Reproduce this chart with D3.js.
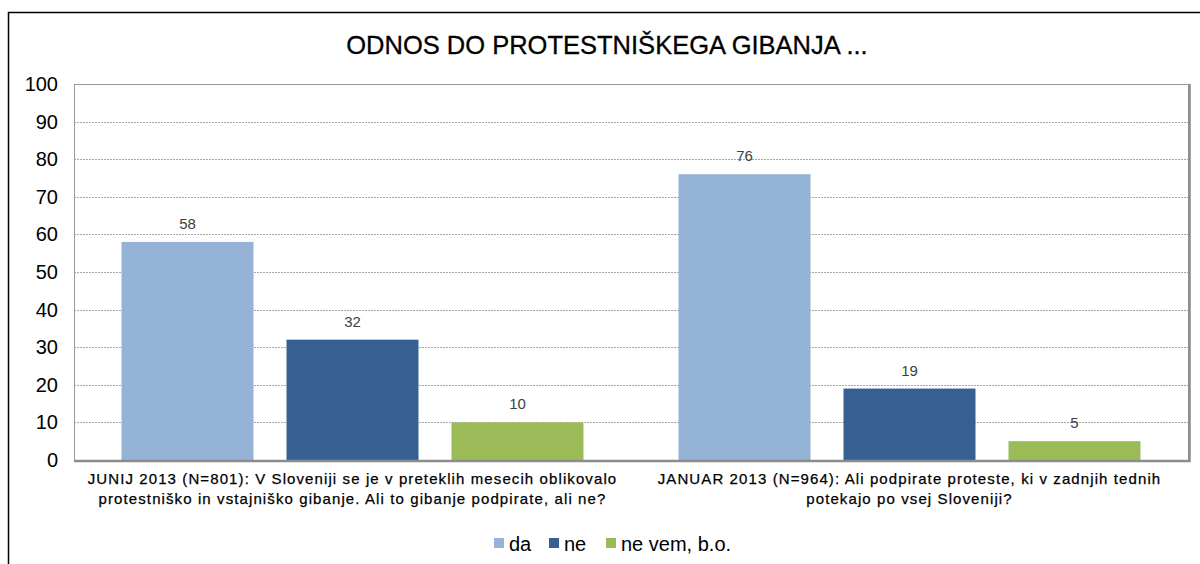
<!DOCTYPE html>
<html><head><meta charset="utf-8">
<script src="https://cdn.jsdelivr.net/npm/d3@7"></script>
<style>body{margin:0;background:#fff}svg{display:block;font-family:"Liberation Sans",Arial,sans-serif}</style>
</head><body><svg id="c" width="1200" height="564"></svg>
<script>
const categories = [
  ["JUNIJ 2013 (N=801): V Sloveniji se je v preteklih mesecih oblikovalo", "protestniško in vstajniško gibanje. Ali to gibanje podpirate, ali ne?"],
  ["JANUAR 2013 (N=964): Ali podpirate proteste, ki v zadnjih tednih", "potekajo po vsej Sloveniji?"]
];
const seriesNames = ["da", "ne", "ne vem, b.o."];
const seriesColors = ["#95B3D7", "#366092", "#9BBB59"];
const da = [58, 76];
const ne = [32, 19];
const neVem = [10, 5];
const yTicks = [0,10,20,30,40,50,60,70,80,90,100];
const title = "ODNOS DO PROTESTNIŠKEGA GIBANJA ...";

const svg = d3.select("#c");
const seriesVals = [da, ne, neVem];
const M = {l:74, t:84, r:1188, b:460};

// outer border
svg.append("path").attr("d","M8.5,564 V12.5 H1200").attr("fill","none").attr("stroke","#000").attr("stroke-width",1.5);

svg.append("text").attr("x",607).attr("y",54).attr("text-anchor","middle")
  .attr("font-size",25.5).attr("fill","#000").attr("stroke","#000").attr("stroke-width",0.3).text(title);

const y = d3.scaleLinear().domain([0,100]).range([M.b, M.t]);
const x0 = d3.scaleBand().domain(d3.range(categories.length)).range([M.l, M.r]).paddingInner(0).paddingOuter(0);
const x1 = d3.scaleBand().domain(d3.range(seriesNames.length)).range([0, x0.bandwidth()]).paddingInner(0.2).paddingOuter(0.288);

// grid
svg.append("g").selectAll("line").data(yTicks.filter(d=>d>0 && d<100)).join("line")
  .attr("x1",M.l).attr("x2",M.r).attr("y1",d=>Math.round(y(d))+0.5).attr("y2",d=>Math.round(y(d))+0.5)
  .attr("stroke","#a6a6a6").attr("stroke-dasharray","2,1");

// bars
const g = svg.append("g");
categories.forEach((c,ci)=>{
  seriesVals.forEach((vals,si)=>{
    const bx = x0(ci)+x1(si);
    g.append("rect").attr("x",bx).attr("y",y(vals[ci])).attr("width",x1.bandwidth()).attr("height",y(0)-y(vals[ci]))
      .attr("fill",seriesColors[si]);
    g.append("text").attr("x",bx+x1.bandwidth()/2).attr("y",y(vals[ci])-13).attr("text-anchor","middle")
      .attr("font-size",15).attr("fill","#404040").text(vals[ci]);
  });
});

// plot frame
svg.append("rect").attr("x",M.l+0.5).attr("y",M.t+0.5).attr("width",M.r-M.l).attr("height",M.b-M.t)
  .attr("fill","none").attr("stroke","#9a9a9a").attr("stroke-width",1);
svg.append("path").attr("d",`M${M.l},${M.b+1} H${M.r+1.5} V${M.t}`).attr("fill","none").attr("stroke","#8c8c8c").attr("stroke-width",2.5);

// y axis
const yAxis = d3.axisLeft(y).tickValues(yTicks).tickSize(0).tickPadding(16);
const ya = svg.append("g").attr("transform",`translate(${M.l},0)`).call(yAxis);
ya.select(".domain").remove();
ya.selectAll("text").attr("font-size",20).attr("fill","#000").attr("font-family","Liberation Sans, Arial");

// x labels
categories.forEach((c,ci)=>{
  const cx = x0(ci)+x0.bandwidth()/2;
  c.forEach((line,li)=>{
    svg.append("text").attr("x",cx).attr("y",484+li*20).attr("text-anchor","middle")
      .attr("font-size",15).attr("letter-spacing",1.1).attr("fill","#000").attr("stroke","#000").attr("stroke-width",0.25).text(line);
  });
});

// legend
const legX = [494, 549, 606];
seriesNames.forEach((n,i)=>{
  svg.append("rect").attr("x",legX[i]).attr("y",538).attr("width",10).attr("height",10).attr("fill",seriesColors[i]);
  svg.append("text").attr("x",legX[i]+15).attr("y",551).attr("font-size",20).attr("fill","#000").text(n);
});
</script></body></html>
